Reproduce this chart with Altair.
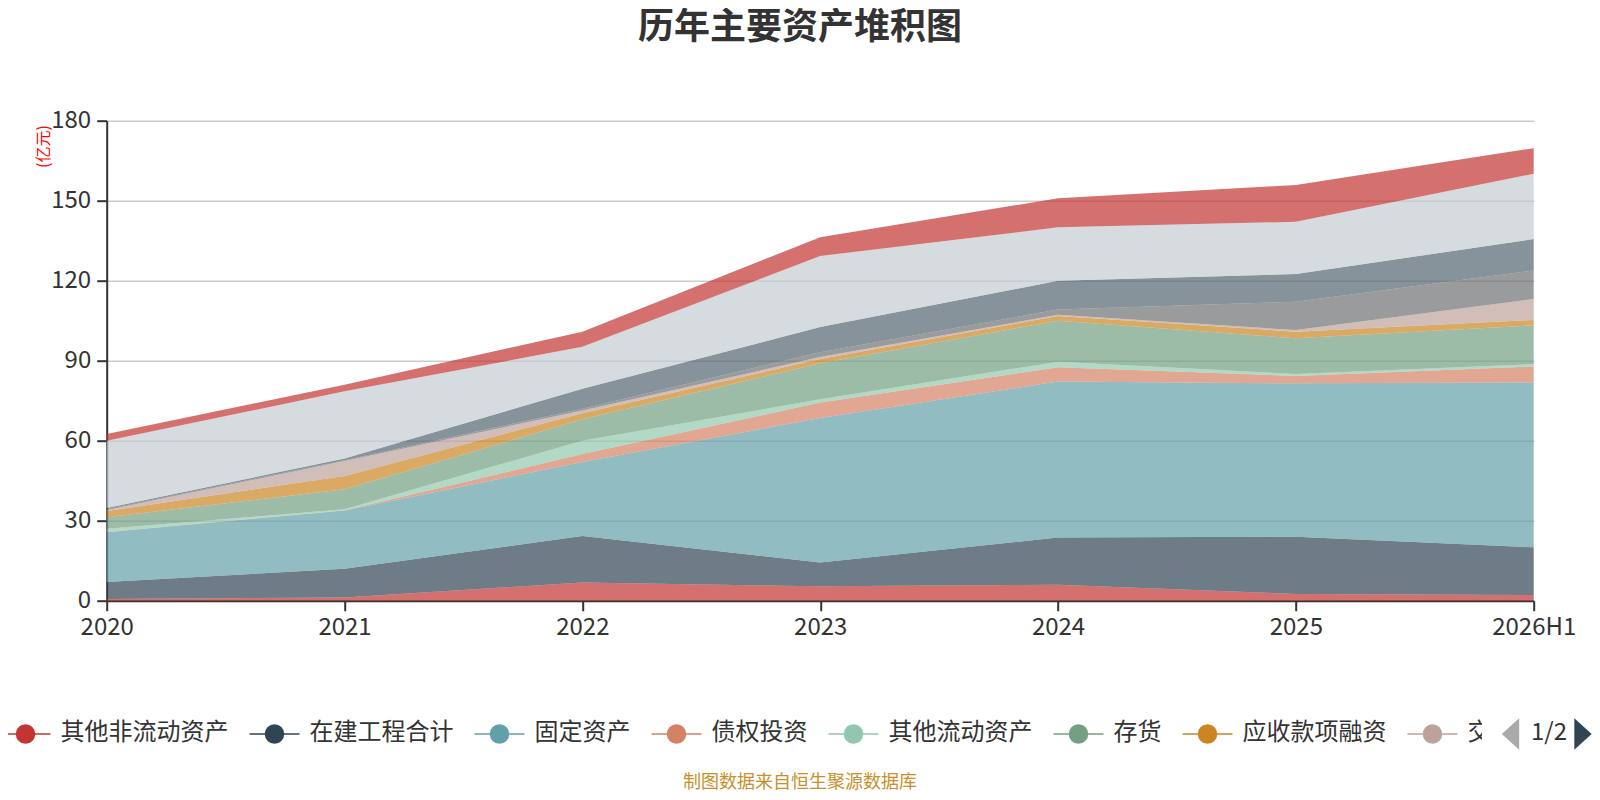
import math
import altair as alt
import pandas as pd

# ---------------- data ----------------
years = ["2020", "2021", "2022", "2023", "2024", "2025", "2026H1"]

series_names = [
    "其他非流动资产", "在建工程合计", "固定资产", "债权投资",
    "其他流动资产", "存货", "应收款项融资", "交易性金融资产",
    "应收票据", "应收账款", "货币资金", "其他资产",
]

v_other_noncurrent = [0.6, 1.2, 6.8, 5.4, 6.0, 2.5, 2.1]
v_construction = [6.4, 10.8, 17.5, 8.9, 17.7, 21.5, 17.9]
v_fixed = [18.7, 21.8, 27.7, 54.2, 58.5, 57.5, 61.8]
v_debt_invest = [0.1, 0.1, 3.0, 5.8, 5.3, 2.8, 6.0]
v_other_current = [1.2, 0.4, 5.0, 1.2, 2.1, 0.7, 0.9]
v_inventory = [4.3, 7.5, 8.0, 13.5, 15.4, 13.4, 14.6]
v_recv_financing = [2.3, 5.0, 2.3, 1.6, 1.8, 2.5, 2.0]
v_trading_fin = [0.4, 5.6, 1.0, 0.8, 0.4, 0.6, 7.8]
v_notes_recv = [0.3, 0.3, 0.7, 1.8, 2.0, 10.6, 10.7]
v_accounts_recv = [0.5, 0.6, 7.5, 9.4, 10.8, 10.4, 11.8]
v_cash = [25.2, 25.2, 15.7, 26.7, 20.0, 19.6, 24.5]
v_other_assets = [2.5, 2.5, 5.7, 7.0, 10.9, 13.8, 9.6]

series_values = [
    v_other_noncurrent, v_construction, v_fixed, v_debt_invest,
    v_other_current, v_inventory, v_recv_financing, v_trading_fin,
    v_notes_recv, v_accounts_recv, v_cash, v_other_assets,
]

palette = ["#c23531", "#2f4554", "#61a0a8", "#d48265", "#91c7ae", "#749f83",
           "#ca8622", "#bda29a", "#6e7074", "#546570", "#c4ccd3", "#c23531"]

title_text = "历年主要资产堆积图"
unit_text = "(亿元)"
source_text = "制图数据来自恒生聚源数据库"
pager_text = "1/2"
legend_count = 8

rows = []
for i, name in enumerate(series_names):
    for j, yr in enumerate(years):
        rows.append({"year": yr, "series": name, "value": series_values[i][j], "idx": i})
df = pd.DataFrame(rows)

# ---------------- layout (page px) ----------------
FONT = "Noto Sans CJK SC"
PLOT_L, PLOT_T = 106.7, 120.7
PLOT_W, PLOT_H = 1427, 480
SVG_W, SVG_H = 1584, 784
PAD_L, PAD_T = PLOT_L - 8, PLOT_T - 8
PAD_R = SVG_W - PAD_L - PLOT_W
PAD_B = SVG_H - PAD_T - PLOT_H
LEG_WINDOW_R = 1482  # right edge of the scrolling legend window


def vx(px):
    return px - PLOT_L


def vy(py):
    return py - PLOT_T


NOX = dict(scale=None, axis=None)

area = alt.Chart(df).mark_area(opacity=0.7, interpolate="linear").encode(
    x=alt.X("year:N", sort=years,
            scale=alt.Scale(type="point", padding=0, domain=years),
            axis=alt.Axis(title=None, labelAngle=0, labelFontSize=24, labelColor="#333",
                          labelFont=FONT, tickSize=10, tickWidth=2, tickColor="#333",
                          domainColor="#333", domainWidth=2, labelPadding=5, grid=False)),
    y=alt.Y("value:Q", stack="zero",
            scale=alt.Scale(domain=[0, 180], nice=False),
            axis=alt.Axis(values=[0, 30, 60, 90, 120, 150, 180], title=unit_text,
                          titleColor="#ff0000", titleFontSize=16, titleFont=FONT,
                          titleFontWeight="normal", titleAngle=270,
                          titleX=vx(44), titleY=vy(146), titleAlign="center",
                          titleBaseline="middle",
                          labelFontSize=24, labelColor="#333", labelFont=FONT,
                          tickSize=10, tickWidth=2, tickColor="#333",
                          domainColor="#333", domainWidth=2, labelPadding=6,
                          grid=True, gridColor="#cccccc", gridWidth=1.5)),
    color=alt.Color("series:N", scale=alt.Scale(domain=series_names, range=palette), legend=None),
    order=alt.Order("idx:Q", sort="ascending"),
    tooltip=["year:N", "series:N", "value:Q"],
)

# ---------------- custom legend (page 1 of 2) ----------------
LEG_FONT = 24
LEG_Y = 734
leg_rows = []
x = 0.5
for i, name in enumerate(series_names[:legend_count]):
    tx = x + 60
    room = LEG_WINDOW_R - tx
    n_vis = max(0, min(len(name), math.ceil(room / LEG_FONT)))
    leg_rows.append({"name": name, "shown": name[:n_vis], "color": palette[i],
                     "l": vx(x), "r": vx(x + 50), "cx": vx(x + 25),
                     "tx": vx(tx), "y": vy(LEG_Y), "ty": vy(LEG_Y - 1)})
    x = x + 60 + LEG_FONT * len(name) + 21
leg = pd.DataFrame(leg_rows)

icon_lines = alt.Chart(leg).mark_rule(strokeWidth=1.5).encode(
    x=alt.X("l:Q", **NOX), x2="r:Q", y=alt.Y("y:Q", **NOX),
    color=alt.Color("color:N", scale=None))
icon_pts = alt.Chart(leg).mark_point(filled=True, shape="circle", size=380, opacity=1).encode(
    x=alt.X("cx:Q", **NOX), y=alt.Y("y:Q", **NOX),
    color=alt.Color("color:N", scale=None))
leg_text = alt.Chart(leg).mark_text(align="left", baseline="middle", fontSize=LEG_FONT,
                                    font=FONT, color="#333").encode(
    x=alt.X("tx:Q", **NOX), y=alt.Y("ty:Q", **NOX), text="shown:N")

# the legend's scroll window hides whatever runs past its right edge
mask_df = pd.DataFrame([{"x1": vx(LEG_WINDOW_R), "x2": vx(1498), "y1": vy(712), "y2": vy(756)}])
mask = alt.Chart(mask_df).mark_rect(color="white", opacity=1).encode(
    x=alt.X("x1:Q", **NOX), x2="x2:Q", y=alt.Y("y1:Q", **NOX), y2="y2:Q")

pager_df = pd.DataFrame([
    {"x": vx(1510.5), "y": vy(LEG_Y), "shape": "M0.55,-1L-0.55,0L0.55,1Z", "color": "#aaaaaa"},
    {"x": vx(1583), "y": vy(LEG_Y), "shape": "M-0.55,-1L0.55,0L-0.55,1Z", "color": "#2f4554"},
])
pager_tri = alt.Chart(pager_df).mark_point(filled=True, size=1000, opacity=1).encode(
    x=alt.X("x:Q", **NOX), y=alt.Y("y:Q", **NOX),
    shape=alt.Shape("shape:N", scale=None),
    color=alt.Color("color:N", scale=None))

pager_lbl = alt.Chart(pd.DataFrame([{"t": pager_text, "x": vx(1549), "y": vy(LEG_Y - 1)}])).mark_text(
    align="center", baseline="middle", fontSize=24, font=FONT, color="#333").encode(
    x=alt.X("x:Q", **NOX), y=alt.Y("y:Q", **NOX), text="t:N")

title_mark = alt.Chart(pd.DataFrame([{"t": title_text, "x": vx(800), "y": vy(28)}])).mark_text(
    align="center", baseline="middle", fontSize=36, fontWeight="bold", font=FONT,
    color="#333").encode(x=alt.X("x:Q", **NOX), y=alt.Y("y:Q", **NOX), text="t:N")

source_mark = alt.Chart(pd.DataFrame([{"t": source_text, "x": vx(800), "y": vy(783)}])).mark_text(
    align="center", baseline="middle", fontSize=18, font=FONT,
    color="#c8902a").encode(x=alt.X("x:Q", **NOX), y=alt.Y("y:Q", **NOX), text="t:N")

chart = alt.layer(
    area, icon_lines, icon_pts, leg_text, mask, pager_tri, pager_lbl,
    title_mark, source_mark
).resolve_scale(
    x="independent", y="independent", color="independent", shape="independent"
).properties(
    width=PLOT_W, height=PLOT_H,
    autosize=alt.AutoSizeParams(type="none"),
    padding={"left": PAD_L, "top": PAD_T, "right": PAD_R, "bottom": PAD_B},
    background="white",
).configure_view(stroke=None)

chart.save("out.html", embed_options={"renderer": "svg", "actions": False})
